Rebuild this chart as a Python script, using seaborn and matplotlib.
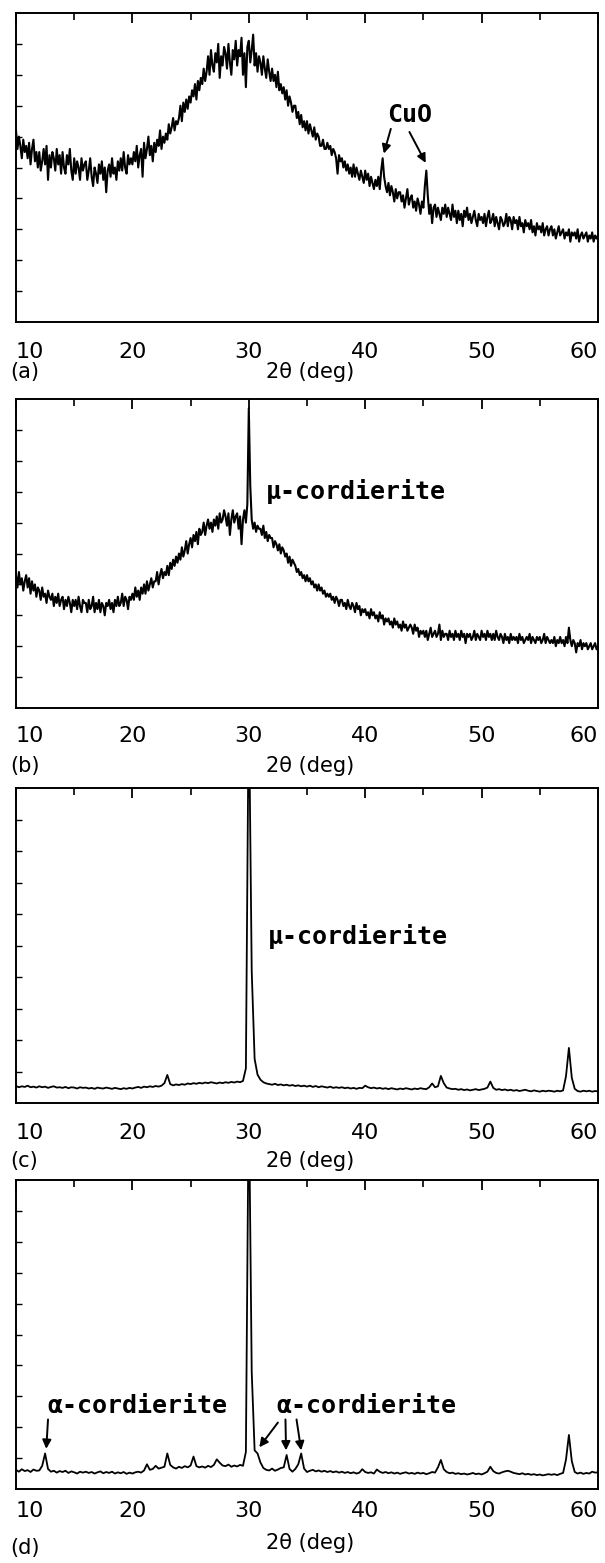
import numpy as np
import matplotlib
matplotlib.use('Agg')
import matplotlib.pyplot as plt
import seaborn as sns

sns.set_style('white')
plt.rcParams['font.family'] = ['DejaVu Sans']
plt.rcParams['text.color'] = 'black'
plt.rcParams['xtick.color'] = 'black'
plt.rcParams['ytick.color'] = 'black'

# scan grids: (a),(b) read at 0.125 deg, (c),(d) at 0.25 deg
two_theta_fine = np.arange(10, 60.001, 0.125)
two_theta = np.arange(10, 60.001, 0.25)

# intensities, in % of the frame height
# one row per degree
int_a = [62, 56, 60, 57, 53, 59, 55, 57,
         53, 58, 51, 56, 59, 52, 55, 50,
         55, 49, 52, 56, 51, 57, 46, 54,
         50, 55, 53, 49, 56, 51, 54, 48,
         55, 50, 48, 54, 51, 56, 49, 46,
         53, 48, 52, 50, 46, 53, 49, 51,
         52, 46, 49, 53, 47, 44, 50, 48,
         45, 51, 48, 52, 46, 50, 42, 49,
         51, 47, 53, 48, 50, 46, 52, 49,
         53, 49, 55, 50, 48, 54, 51, 53,
         51, 55, 52, 57, 50, 54, 56, 47,
         58, 53, 56, 60, 54, 57, 52, 58,
         55, 59, 57, 62, 56, 60, 58, 61,
         59, 64, 61, 63, 66, 62, 65, 64,
         66, 70, 65, 71, 68, 72, 69, 73,
         71, 75, 73, 77, 72, 78, 75, 79,
         77, 82, 78, 81, 86, 80, 88, 83,
         81, 87, 84, 90, 79, 86, 83, 89,
         87, 82, 90, 84, 80, 88, 85, 91,
         83, 88, 86, 92, 80, 87, 76, 89,
         91, 84, 88, 93, 83, 87, 81, 86,
         84, 80, 86, 82, 79, 85, 81, 78,
         82, 78, 80, 76, 81, 75, 77, 74,
         76, 72, 75, 70, 73, 71, 68, 70,
         70, 66, 68, 64, 67, 63, 65, 62,
         65, 61, 64, 62, 60, 63, 59, 61,
         60, 57, 57, 59, 56, 56, 58, 56,
         57, 54, 56, 55, 53, 48, 54, 52,
         53, 50, 52, 49, 51, 48, 50, 47,
         51, 47, 50, 48, 46, 49, 47, 45,
         49, 46, 48, 44, 47, 45, 43, 46,
         44, 47, 43, 49, 53, 47, 44, 42,
         45, 41, 44, 42, 39, 43, 40, 42,
         42, 39, 41, 37, 40, 43, 38, 40,
         41, 37, 39, 36, 40, 38, 35, 39,
         37, 44, 49, 41, 35, 38, 32, 37,
         38, 34, 37, 35, 33, 37, 35, 38,
         34, 37, 35, 33, 38, 34, 36, 32,
         36, 33, 35, 31, 36, 34, 37, 33,
         35, 32, 34, 36, 33, 31, 35, 33,
         34, 32, 35, 31, 34, 36, 32, 33,
         35, 31, 34, 32, 30, 34, 33, 31,
         32, 35, 31, 34, 33, 30, 34, 32,
         33, 30, 34, 31, 32, 29, 33, 31,
         32, 30, 33, 29, 31, 28, 32, 30,
         31, 29, 32, 28, 30, 31, 28, 30,
         31, 28, 30, 27, 29, 31, 28, 29,
         30, 27, 29, 28, 30, 26, 29, 28,
         29, 27, 30, 26, 28, 29, 27, 28,
         29, 26, 28, 27, 29, 26, 28, 27,
         28]

int_b = [43, 39, 44, 40, 42, 38, 41, 43,
         39, 42, 37, 41, 38, 40, 36, 39,
         38, 35, 39, 36, 37, 34, 38, 36,
         35, 37, 33, 36, 34, 37, 33, 35,
         36, 32, 35, 33, 36, 34, 31, 35,
         33, 35, 32, 36, 33, 31, 35, 34,
         34, 31, 35, 32, 33, 36, 31, 34,
         32, 35, 31, 34, 33, 30, 34, 33,
         35, 32, 34, 31, 35, 33, 36, 33,
         34, 37, 33, 36, 35, 32, 36, 35,
         37, 35, 39, 36, 38, 35, 39, 37,
         40, 37, 41, 38, 40, 42, 39, 41,
         41, 44, 40, 43, 45, 42, 44, 43,
         46, 43, 47, 45, 48, 46, 49, 47,
         50, 48, 52, 49, 51, 54, 50, 53,
         55, 52, 56, 54, 57, 53, 58, 56,
         57, 60, 56, 59, 61, 58, 60, 57,
         61, 59, 62, 58, 63, 60, 61, 64,
         62, 59, 63, 56, 61, 64, 60, 62,
         63, 58, 62, 53, 61, 64, 60, 66,
         97, 72, 61, 58, 60, 57, 59, 58,
         58, 56, 59, 55, 57, 54, 56, 55,
         55, 52, 54, 53, 51, 53, 50, 52,
         51, 49, 50, 47, 49, 46, 48, 47,
         46, 44, 45, 43, 44, 42, 43, 41,
         43, 41, 42, 40, 41, 39, 40, 38,
         40, 38, 39, 37, 38, 36, 37, 36,
         37, 35, 36, 34, 36, 35, 33, 35,
         35, 33, 34, 32, 35, 33, 32, 34,
         33, 31, 34, 32, 33, 30, 32, 31,
         32, 30, 31, 29, 32, 30, 31, 29,
         30, 28, 31, 29, 30, 27, 29, 28,
         29, 27, 28, 26, 29, 27, 28, 26,
         27, 25, 28, 26, 27, 25, 26, 27,
         26, 24, 27, 25, 26, 23, 25, 24,
         25, 23, 25, 22, 24, 26, 23, 24,
         25, 23, 24, 27, 22, 25, 23, 24,
         24, 22, 25, 23, 24, 22, 25, 23,
         24, 22, 25, 23, 24, 21, 24, 23,
         24, 22, 23, 25, 22, 24, 23, 22,
         25, 23, 24, 22, 25, 23, 24, 22,
         24, 22, 25, 23, 22, 24, 23, 21,
         24, 22, 23, 21, 24, 22, 23, 22,
         23, 21, 24, 22, 23, 21, 22, 23,
         22, 24, 21, 23, 22, 21, 23, 22,
         23, 21, 22, 24, 21, 23, 22, 21,
         22, 21, 23, 20, 22, 21, 23, 21,
         22, 20, 23, 21, 26, 22, 20, 22,
         21, 18, 21, 20, 22, 19, 21, 20,
         21, 19, 20, 21, 19, 20, 21, 19,
         20]

# one row per two degrees
int_c = [5.4, 5.0, 5.3, 5.1, 5.5, 5.0, 5.2, 4.9,
         5.3, 5.0, 5.2, 4.8, 5.1, 5.3, 4.9, 5.0,
         4.8, 5.1, 4.7, 5.0, 4.9, 4.6, 5.0, 4.8,
         4.9, 4.6, 4.8, 4.5, 4.9, 4.7, 4.6, 4.9,
         4.7, 4.5, 4.8, 4.6, 4.4, 4.7, 4.5, 4.8,
         4.6, 4.9, 5.1, 4.8, 5.2, 5.0, 5.3, 5.1,
         5.4, 5.2, 5.5, 6.3, 8.9, 6.0, 5.6, 5.9,
         5.7, 6.0, 5.8, 6.2, 6.0, 6.3, 6.1, 6.4,
         6.2, 6.5, 6.3, 6.6, 6.4, 6.2, 6.5, 6.3,
         6.6, 6.4, 6.7, 6.5, 6.8, 6.6, 7.0, 11.0,
         130, 42, 14, 9.0, 7.4, 6.6, 6.2, 6.0,
         5.8, 6.1, 5.7, 5.9, 5.6, 5.8, 5.5, 5.7,
         5.4, 5.6, 5.3, 5.5, 5.2, 5.5, 5.1, 5.4,
         5.0, 5.3, 5.1, 4.9, 5.2, 4.8, 5.0, 4.8,
         5.0, 4.7, 4.9, 4.6, 4.8, 4.5, 4.8, 4.7,
         5.5, 5.0, 4.7, 4.9, 4.6, 4.8, 4.5, 4.7,
         4.4, 4.7, 4.5, 4.3, 4.6, 4.4, 4.7, 4.5,
         4.3, 4.6, 4.4, 4.7, 4.5, 4.4, 5.0, 6.2,
         5.0, 5.3, 8.6, 6.3, 4.9, 4.6, 4.4, 4.5,
         4.2, 4.4, 4.1, 4.3, 4.0, 4.2, 4.4, 4.1,
         4.3, 4.5, 4.9, 6.8, 4.8, 4.2, 4.4, 4.1,
         4.3, 4.0, 4.2, 3.9, 4.1, 3.8, 4.0, 4.2,
         3.9, 3.7, 4.0, 3.8, 3.6, 3.9, 3.7, 3.9,
         3.8, 3.6, 3.9, 3.7, 4.0, 8.5, 17.5, 8.0,
         4.5, 3.8, 3.6, 3.9, 3.7, 3.9, 3.6, 3.8,
         3.7]

int_d = [6.2, 5.6, 6.4, 5.8, 6.1, 5.5, 6.3, 5.9,
         6.0, 7.5, 11.5, 6.5, 5.6, 5.9, 5.3, 5.8,
         5.5, 5.9, 5.2, 5.7, 5.4, 5.0, 5.6, 5.3,
         5.6, 5.2, 5.5, 5.0, 5.4, 5.7, 5.1, 5.5,
         5.2, 5.6, 5.0, 5.4, 5.1, 5.5, 4.9, 5.3,
         5.0, 5.4, 5.6, 5.3, 6.0, 8.0, 6.2, 6.5,
         7.5, 6.6, 6.9, 7.2, 11.5, 7.8, 7.0, 6.6,
         7.2, 6.8, 7.4, 7.0, 7.6, 10.5, 7.4, 7.0,
         7.3, 6.9, 7.5, 7.1, 7.8, 9.6, 8.5, 7.6,
         7.4, 7.9, 7.2, 7.6, 7.3, 7.8, 7.5, 12.0,
         130, 38, 12.5, 11.5, 8.6, 6.8, 6.2, 6.0,
         6.6, 5.9, 6.3, 6.8, 7.0, 11.0, 6.5, 5.6,
         6.5, 8.0, 11.5, 6.6, 5.5, 5.9, 6.2, 5.7,
         6.0, 5.6, 5.9, 5.5, 5.8, 5.4, 5.7, 5.3,
         5.6, 5.2, 5.5, 5.1, 5.4, 5.0, 5.3, 6.4,
         5.5, 5.2, 5.4, 5.0, 6.3, 5.6, 5.2, 5.5,
         5.1, 5.4, 5.0, 5.3, 4.9, 5.2, 5.4, 5.0,
         5.2, 4.9, 5.3, 5.0, 5.2, 4.8, 5.1, 5.5,
         5.3, 7.0, 9.4, 6.4, 5.5, 5.1, 5.3, 4.9,
         5.1, 4.8, 5.0, 4.7, 4.9, 5.2, 4.8, 5.0,
         4.7, 5.1, 5.6, 7.2, 5.8, 5.2, 5.0, 5.4,
         5.7, 5.9, 5.6, 5.2, 5.0, 4.8, 5.1, 4.7,
         4.9, 4.6, 4.8, 4.5, 4.7, 4.4, 4.6, 4.8,
         4.6, 4.8, 4.5, 4.9, 5.2, 9.5, 17.5, 9.0,
         5.5, 5.0, 5.3, 4.9, 5.2, 5.0, 5.6, 5.3,
         5.4]

grids = [two_theta_fine, two_theta_fine, two_theta, two_theta]
series = [int_a, int_b, int_c, int_d]
panel_tags = ['(a)', '(b)', '(c)', '(d)']
xlabel = '2θ (deg)'
xtick_vals = [10, 20, 30, 40, 50, 60]

W, H = 605, 1563
boxes = [(13, 322), (399, 708), (788, 1103), (1180, 1489)]  # frame top/bottom in px
num_pad = [14.4, 13.0, 14.4, 8.6]
tag_y = [372, 766, 1161, 1548]
lab_y = [372, 766, 1161, 1543]

mono = dict(family='DejaVu Sans Mono', fontsize=18, fontweight='bold')
arrow = dict(arrowstyle='-|>', color='black', lw=1.4, mutation_scale=13,
             shrinkA=0, shrinkB=0)

fig = plt.figure(figsize=(W / 100, H / 100), dpi=100)
axes = []
for i, (top, bot) in enumerate(boxes):
    ax = fig.add_axes([16 / W, 1 - bot / H, 582 / W, (bot - top) / H])
    sns.lineplot(x=grids[i], y=series[i], ax=ax, color='black',
                 lw=1.5 if i < 2 else 1.3)
    ax.set_xlim(10, 60)
    ax.set_ylim(0, 100)
    ax.set_xticks(xtick_vals)
    ax.set_xticklabels([str(v) for v in xtick_vals], fontsize=16)
    ax.set_xticks(np.arange(15, 60, 10), minor=True)
    ax.set_yticks(np.arange(10, 100, 10))
    ax.set_yticklabels([])
    ax.tick_params(axis='x', which='major', direction='in', length=7, width=1.3,
                   pad=num_pad[i], top=True)
    ax.tick_params(axis='x', which='minor', direction='in', length=5, width=1.2, top=True)
    ax.tick_params(axis='y', direction='in', length=4, width=1.0, left=True)
    labs = ax.get_xticklabels()
    labs[0].set_ha('left')
    labs[-1].set_ha('right')
    ax.set_xlabel('')
    ax.set_ylabel('')
    for sp in ax.spines.values():
        sp.set_linewidth(1.4)
        sp.set_color('black')
    fig.text(10 / W, 1 - tag_y[i] / H, panel_tags[i], fontsize=15, ha='left', va='center')
    fig.text(310 / W, 1 - lab_y[i] / H, xlabel, fontsize=15, ha='center', va='center')
    axes.append(ax)

ax_a, ax_b, ax_c, ax_d = axes

# (a) CuO lines
ax_a.text(43.8, 67, 'CuO', ha='center', va='center', **mono)
ax_a.annotate('', xy=(41.6, 54.5), xytext=(42.2, 62.5), arrowprops=arrow)
ax_a.annotate('', xy=(45.2, 51.5), xytext=(43.8, 61.5), arrowprops=arrow)

# (b), (c) mu-cordierite
ax_b.text(31.5, 70, 'μ-cordierite', ha='left', va='center', **mono)
ax_c.text(31.6, 53, 'μ-cordierite', ha='left', va='center', **mono)

# (d) alpha-cordierite
ax_d.text(12.7, 27, 'α-cordierite', ha='left', va='center', **mono)
ax_d.text(32.4, 27, 'α-cordierite', ha='left', va='center', **mono)
ax_d.annotate('', xy=(12.6, 13), xytext=(12.75, 22.5), arrowprops=arrow)
ax_d.annotate('', xy=(30.9, 13.5), xytext=(32.5, 21.5), arrowprops=arrow)
ax_d.annotate('', xy=(33.2, 12.5), xytext=(33.15, 22.5), arrowprops=arrow)
ax_d.annotate('', xy=(34.5, 12.5), xytext=(34.1, 22.5), arrowprops=arrow)

fig.savefig('out.png', dpi=100, facecolor='white')
